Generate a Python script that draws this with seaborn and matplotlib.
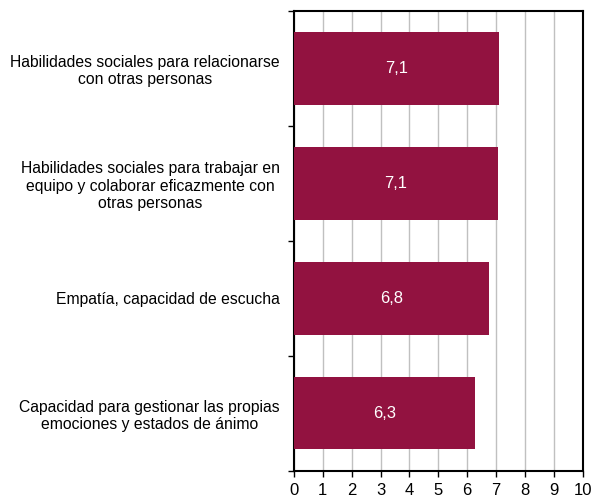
import matplotlib
matplotlib.use("Agg")
import matplotlib.pyplot as plt
import seaborn as sns
import pandas as pd
from matplotlib.ticker import FixedLocator

categories = [
    "Habilidades sociales para relacionarse\ncon otras personas",
    "Habilidades sociales para trabajar en\nequipo y colaborar eficazmente con\notras personas",
    "Empatía, capacidad de escucha",
    "Capacidad para gestionar las propias\nemociones y estados de ánimo",
]
values = [7.12, 7.06, 6.77, 6.28]
labels = ["7,1", "7,1", "6,8", "6,3"]

sns.set_theme(style="white")
plt.rcParams["font.family"] = ["Liberation Sans", "DejaVu Sans"]

df = pd.DataFrame({"cat": categories, "val": values})

fig = plt.figure(figsize=(5.93, 4.97), dpi=100)
ax = fig.add_axes([0.4958, 0.0529, 0.9823 - 0.4958, 0.9779 - 0.0529])

sns.barplot(data=df, x="val", y="cat", orient="h", color="#921240",
            saturation=1, width=0.63, ax=ax, zorder=3, linewidth=0)

for p, lab in zip(ax.patches, labels):
    ax.text(p.get_width() / 2, p.get_y() + p.get_height() / 2, lab,
            ha="center", va="center", color="white", fontsize=12, zorder=4)

ax.set_xlim(0, 10)
ax.set_ylim(3.5, -0.5)
ax.set_xticks(range(0, 11))
ax.set_xticklabels([str(i) for i in range(11)], fontsize=12)
ax.xaxis.grid(True, color="#c0c0c0", linewidth=1, zorder=0)
ax.set_axisbelow(True)

ax.yaxis.set_minor_locator(FixedLocator([-0.5, 0.5, 1.5, 2.5, 3.5]))
ax.tick_params(axis="y", which="major", length=0, pad=10, labelsize=11.3)
ax.tick_params(axis="y", which="minor", length=4, width=1, color="black", left=True)
ax.tick_params(axis="x", which="major", length=4, width=1, color="black", bottom=True, pad=5)
for lab in ax.get_yticklabels():
    lab.set_multialignment("center")
    lab.set_color("black")
for lab in ax.get_xticklabels():
    lab.set_color("black")

for s in ax.spines.values():
    s.set_visible(True)
    s.set_color("black")
    s.set_linewidth(1.5)

ax.set_xlabel("")
ax.set_ylabel("")

fig.savefig("out.png", dpi=100)
